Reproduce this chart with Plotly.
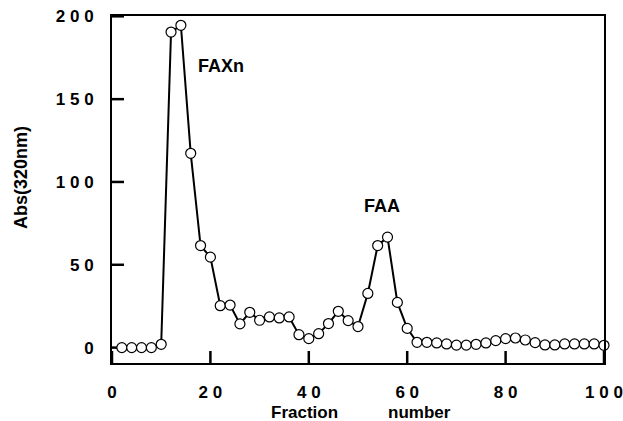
import plotly.graph_objects as go

# Data
fraction = [2, 4, 6, 8, 10, 12, 14, 16, 18, 20,
            22, 24, 26, 28, 30, 32, 34, 36, 38, 40,
            42, 44, 46, 48, 50, 52, 54, 56, 58, 60,
            62, 64, 66, 68, 70, 72, 74, 76, 78, 80,
            82, 84, 86, 88, 90, 92, 94, 96, 98, 100]
absorbance = [0, 0, 0, 0, 2, 190.5, 194.6, 117.3, 61.6, 54.6,
              25.3, 25.7, 14.3, 21.3, 16.5, 18.5, 17.9, 18.5, 7.8, 5.4,
              8.4, 14.5, 21.9, 16.3, 12.7, 32.7, 61.6, 66.7, 27.3, 11.6,
              3.2, 3.2, 2.8, 2.2, 1.5, 1.5, 2.0, 2.8, 4.2, 5.4,
              5.8, 4.6, 3.0, 1.6, 1.6, 2.2, 2.2, 2.2, 2.2, 1.4]

NB = "\u00a0"
x_tickvals = [0, 20, 40, 60, 80, 100]
x_ticktext = ["0", "2 0", "4 0", "6 0", "8 0", "1 0 0"]
y_tickvals = [0, 50, 100, 150, 200]
y_ticktext = ["0", "5 0", "1 0 0", "1 5 0", "2 0 0"]

peak_labels = ["FAXn", "FAA"]
peak_x = [22.2, 54.9]
peak_y = [170, 85.5]

X_RANGE = [0, 100]
Y_RANGE = [-9.3, 200.2]
PLOT_W, PLOT_H = 492, 347
TICK_PX = 12

FONT = "Liberation Sans, Arial, sans-serif"
TICKFONT = dict(family=FONT, size=17, color="black")
LABELFONT = dict(family=FONT, size=18, color="black")
AXFONT = dict(family=FONT, size=17, color="black")


def bold(s):
    return "<b>" + s.replace(" ", NB) + "</b>"


fig = go.Figure()

# inward tick marks, drawn at the axis tick values
xt_len = TICK_PX * (Y_RANGE[1] - Y_RANGE[0]) / PLOT_H
yt_len = TICK_PX * (X_RANGE[1] - X_RANGE[0]) / PLOT_W
for tv in x_tickvals:
    fig.add_trace(go.Scatter(x=[tv, tv], y=[Y_RANGE[0], Y_RANGE[0] + xt_len],
                             mode="lines", line=dict(color="black", width=2.5),
                             hoverinfo="skip", showlegend=False, cliponaxis=False))
for tv in y_tickvals:
    fig.add_trace(go.Scatter(x=[X_RANGE[0], X_RANGE[0] + yt_len], y=[tv, tv],
                             mode="lines", line=dict(color="black", width=2.5),
                             hoverinfo="skip", showlegend=False, cliponaxis=False))

fig.add_trace(go.Scatter(
    x=fraction, y=absorbance, mode="lines+markers",
    line=dict(color="black", width=2),
    marker=dict(symbol="circle", size=10, color="white",
                line=dict(color="black", width=1.2)),
    cliponaxis=False, showlegend=False,
))

annotations = []
for t, ax, ay in zip(peak_labels, peak_x, peak_y):
    annotations.append(dict(x=ax, y=ay, xref="x", yref="y", text=bold(t),
                            showarrow=False, font=LABELFONT,
                            xanchor="center", yanchor="middle"))
annotations.append(dict(x=-0.1835, y=0.535, xref="paper", yref="paper",
                        text=bold("Abs(320nm)"), textangle=-90, showarrow=False,
                        font=LABELFONT, xanchor="center", yanchor="middle"))
annotations.append(dict(x=39.2, y=-0.142, xref="x", yref="paper",
                        text=bold("Fraction"), showarrow=False, font=AXFONT,
                        xanchor="center", yanchor="middle"))
annotations.append(dict(x=62.6, y=-0.142, xref="x", yref="paper",
                        text=bold("number"), showarrow=False, font=AXFONT,
                        xanchor="center", yanchor="middle"))

fig.update_layout(
    width=623, height=421,
    margin=dict(l=112, r=19, t=16, b=58, autoexpand=False),
    paper_bgcolor="white", plot_bgcolor="white",
    annotations=annotations,
    xaxis=dict(range=X_RANGE, tickvals=x_tickvals,
               ticktext=[bold(t) for t in x_ticktext],
               ticks="outside", ticklen=13, tickwidth=2, tickcolor="rgba(0,0,0,0)",
               showline=True, linewidth=2, linecolor="black", mirror=True,
               showgrid=False, zeroline=False, automargin=False,
               tickfont=TICKFONT),
    yaxis=dict(range=Y_RANGE, tickvals=y_tickvals,
               ticktext=[bold(t) for t in y_ticktext],
               ticks="outside", ticklen=13, tickwidth=2, tickcolor="rgba(0,0,0,0)",
               showline=True, linewidth=2, linecolor="black", mirror=True,
               showgrid=False, zeroline=False, automargin=False,
               tickfont=TICKFONT),
)

fig.write_html("out.html")
